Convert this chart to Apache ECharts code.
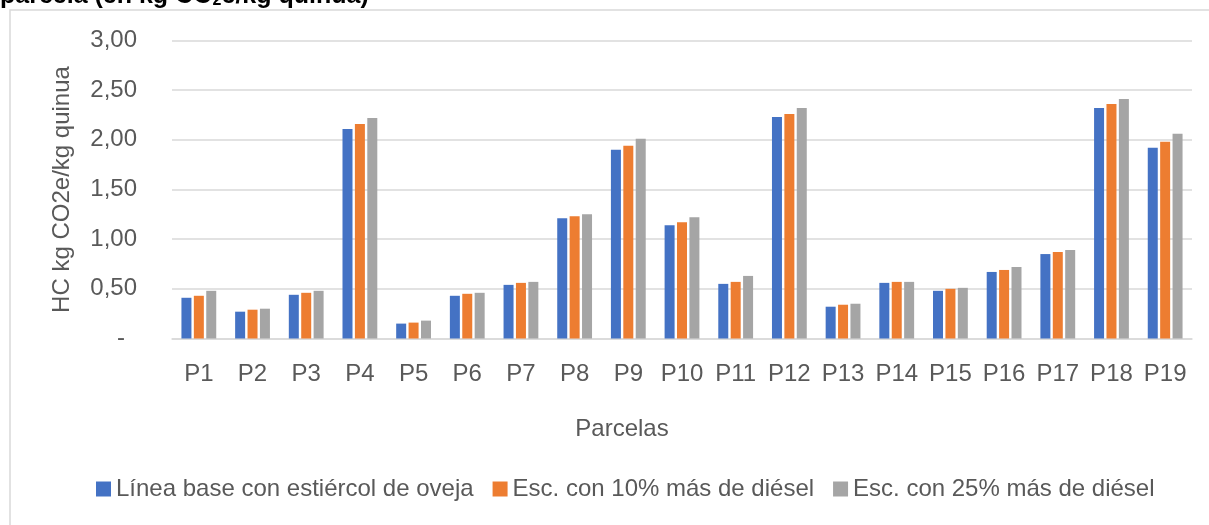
<!DOCTYPE html>
<html>
<head>
<meta charset="utf-8">
<script src="https://cdn.jsdelivr.net/npm/echarts@6/dist/echarts.min.js"></script>
<style>
  html, body { margin: 0; padding: 0; background: #fff; }
  #chart { width: 1209px; height: 525px; }
</style>
</head>
<body>
<div id="chart"></div>
<script>
// Huella de carbono por parcela (kg CO2e / kg quinua)
const parcelas = ['P1','P2','P3','P4','P5','P6','P7','P8','P9','P10','P11','P12','P13','P14','P15','P16','P17','P18','P19'];
const lineaBase = [0.41,0.27,0.44,2.11,0.15,0.43,0.54,1.21,1.90,1.14,0.55,2.23,0.32,0.56,0.48,0.67,0.85,2.32,1.92];
const esc10 = [0.43,0.29,0.46,2.16,0.16,0.45,0.56,1.23,1.94,1.17,0.57,2.26,0.34,0.57,0.50,0.69,0.87,2.36,1.98];
const esc25 = [0.48,0.30,0.48,2.22,0.18,0.46,0.57,1.25,2.01,1.22,0.63,2.32,0.35,0.57,0.51,0.72,0.89,2.41,2.06];
const seriesNames = ['Línea base con estiércol de oveja','Esc. con 10% más de diésel','Esc. con 25% más de diésel'];
const seriesColors = ['#4472C4','#ED7D31','#A5A5A5'];
const xTitle = 'Parcelas';
const yTitle = 'HC kg CO2e/kg quinua';

const FONT = '"Liberation Sans", Arial, sans-serif';
const FS = 24;
const TXT = '#595959';
const GRIDC = '#D9D9D9';

const chart = echarts.init(document.getElementById('chart'), null, { renderer: 'canvas' });

function fmt(v) {
  if (v === 0) return '{z|-}';
  return v.toFixed(2).replace('.', ',');
}

const data = [lineaBase, esc10, esc25];

chart.setOption({
  animation: false,
  backgroundColor: '#ffffff',
  textStyle: { fontFamily: FONT },
  graphic: [
    {
      type: 'rect',
      shape: { x: 10, y: 10, width: 1220, height: 540 },
      style: { fill: 'none', stroke: GRIDC, lineWidth: 1.5 },
      silent: true
    },
    {
      type: 'text',
      x: 0,
      y: 9,
      style: {
        text: '{b|parcela (en kg CO}{s|2}{b|e/kg quinua)}',
        verticalAlign: 'bottom',
        rich: {
          b: { fontFamily: FONT, fontWeight: 'bold', fontSize: 25, fill: '#000' },
          s: { fontFamily: FONT, fontWeight: 'bold', fontSize: 16, fill: '#000', padding: [9, 0, 0, 0] }
        }
      },
      silent: true
    },
    {
      type: 'text',
      x: 622,
      y: 429,
      style: {
        text: xTitle,
        align: 'center',
        verticalAlign: 'middle',
        fontFamily: FONT,
        fontSize: FS,
        fill: TXT
      },
      silent: true
    }
  ],
  grid: { left: 172, right: 17, top: 40.5, bottom: 186.5, containLabel: false },
  legend: {
    bottom: 19,
    left: 91,
    itemWidth: 15,
    itemHeight: 15,
    itemGap: 19,
    icon: 'rect',
    data: seriesNames,
    textStyle: { fontFamily: FONT, fontSize: FS, color: TXT }
  },
  xAxis: {
    type: 'category',
    data: parcelas,
    axisLine: { lineStyle: { color: GRIDC, width: 1.5 } },
    axisTick: { show: false },
    axisLabel: { fontFamily: FONT, fontSize: FS, color: TXT, margin: 24, interval: 0 }
  },
  yAxis: {
    type: 'value',
    min: 0,
    max: 3,
    interval: 0.5,
    name: yTitle,
    nameLocation: 'middle',
    nameGap: 98,
    nameTextStyle: { fontFamily: FONT, fontSize: FS, color: TXT },
    axisLine: { show: false },
    axisTick: { show: false },
    splitLine: { lineStyle: { color: GRIDC, width: 1.5 } },
    axisLabel: {
      fontFamily: FONT, fontSize: FS, color: TXT, margin: 35,
      formatter: fmt,
      rich: { z: { fontFamily: FONT, fontSize: FS, color: TXT, padding: [0, 12, 0, 0] } }
    }
  },
  series: seriesNames.map((n, i) => ({
    name: n,
    type: 'bar',
    data: data[i],
    barWidth: 10,
    barGap: '24%',
    itemStyle: { color: seriesColors[i] }
  }))
});
</script>
</body>
</html>
